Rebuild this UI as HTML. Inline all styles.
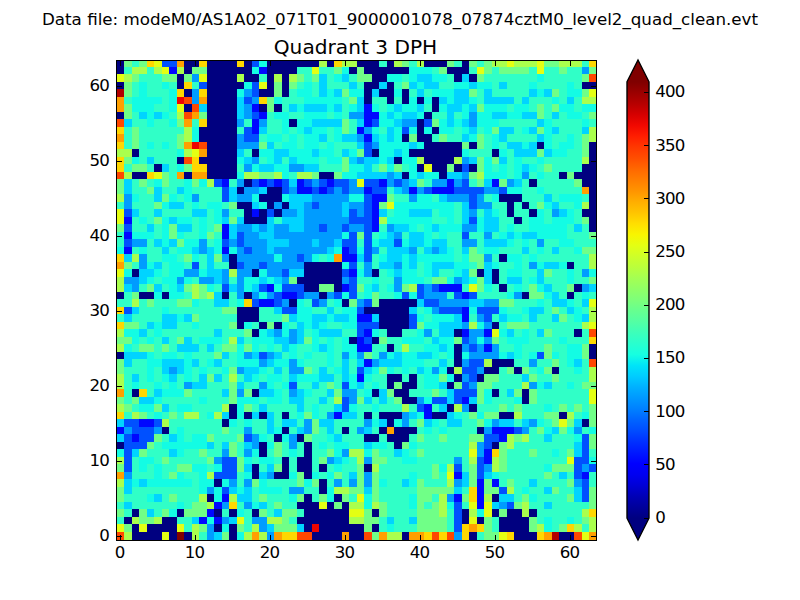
<!DOCTYPE html>
<html lang="en">
<head>
<meta charset="utf-8">
<title>Quadrant 3 DPH</title>
<style>
html,body{margin:0;padding:0;background:#fff;}
body{width:800px;height:600px;position:relative;overflow:hidden;font-family:"DejaVu Sans","Liberation Sans",sans-serif;color:#000;}
svg{position:absolute;left:0;top:0;display:block;}
.t{position:absolute;white-space:nowrap;line-height:1;font-size:16.67px;}
.sup{left:0;width:800px;text-align:center;top:10.8px;font-size:16.71px;}
.ttl{left:115px;width:481px;text-align:center;top:37px;font-size:20.15px;}
.yl{text-align:right;width:60px;left:49.1px;letter-spacing:-0.8px;}
.xl{text-align:center;width:60px;top:545.0px;letter-spacing:-0.8px;}
.cl{left:655.25px;letter-spacing:-0.8px;}
</style>
</head>
<body>
<svg width="800" height="600" viewBox="0 0 800 600">
<defs><linearGradient id="jet" gradientUnits="userSpaceOnUse" x1="0" y1="60" x2="0" y2="540"><stop offset="0" stop-color="#800000"/><stop offset="0.0455" stop-color="#800000"/><stop offset="0.0682" stop-color="#9b0000"/><stop offset="0.0909" stop-color="#b60000"/><stop offset="0.1136" stop-color="#d60000"/><stop offset="0.1364" stop-color="#f10800"/><stop offset="0.1591" stop-color="#ff1e00"/><stop offset="0.1818" stop-color="#ff3800"/><stop offset="0.2045" stop-color="#ff4e00"/><stop offset="0.2273" stop-color="#ff6800"/><stop offset="0.2500" stop-color="#ff7e00"/><stop offset="0.2727" stop-color="#ff9400"/><stop offset="0.2955" stop-color="#ffae00"/><stop offset="0.3182" stop-color="#ffc400"/><stop offset="0.3409" stop-color="#ffde00"/><stop offset="0.3636" stop-color="#f8f500"/><stop offset="0.3864" stop-color="#e4ff13"/><stop offset="0.4091" stop-color="#ceff29"/><stop offset="0.4318" stop-color="#baff3c"/><stop offset="0.4545" stop-color="#a4ff53"/><stop offset="0.4773" stop-color="#90ff66"/><stop offset="0.5000" stop-color="#7dff7a"/><stop offset="0.5227" stop-color="#66ff90"/><stop offset="0.5455" stop-color="#53ffa4"/><stop offset="0.5682" stop-color="#3cffba"/><stop offset="0.5909" stop-color="#29ffce"/><stop offset="0.6136" stop-color="#16ffe1"/><stop offset="0.6364" stop-color="#00e4f8"/><stop offset="0.6591" stop-color="#00ccff"/><stop offset="0.6818" stop-color="#00b0ff"/><stop offset="0.7045" stop-color="#0098ff"/><stop offset="0.7273" stop-color="#0080ff"/><stop offset="0.7500" stop-color="#0064ff"/><stop offset="0.7727" stop-color="#004cff"/><stop offset="0.7955" stop-color="#0030ff"/><stop offset="0.8182" stop-color="#0018ff"/><stop offset="0.8409" stop-color="#0000ff"/><stop offset="0.8636" stop-color="#0000f1"/><stop offset="0.8864" stop-color="#0000d6"/><stop offset="0.9091" stop-color="#0000b6"/><stop offset="0.9318" stop-color="#00009b"/><stop offset="0.9545" stop-color="#000080"/><stop offset="1" stop-color="#000080"/></linearGradient></defs>
<clipPath id="ax"><rect x="116" y="60" width="481" height="481"/></clipPath>
<g shape-rendering="crispEdges" clip-path="url(#ax)">
<path fill="#000080" d="M116 60h8v7h-8zM184 60h15v7h-15zM207 60h30v7h-30zM244 60h8v7h-8zM267 60h52v7h-52zM327 60h7v7h-7zM357 60h22v7h-22zM387 60h7v7h-7zM424 60h23v7h-23zM462 60h7v7h-7zM116 67h8v7h-8zM184 67h8v7h-8zM207 67h45v7h-45zM267 67h30v7h-30zM349 67h8v7h-8zM364 67h45v7h-45zM447 67h22v7h-22zM177 74h7v8h-7zM207 74h30v8h-30zM244 74h15v8h-15zM267 74h7v8h-7zM282 74h7v8h-7zM372 74h15v8h-15zM454 74h8v8h-8zM469 74h8v8h-8zM116 82h8v7h-8zM177 82h7v7h-7zM207 82h37v7h-37zM267 82h7v7h-7zM282 82h7v7h-7zM364 82h15v7h-15zM387 82h7v7h-7zM582 82h15v7h-15zM184 89h8v8h-8zM207 89h30v8h-30zM259 89h15v8h-15zM282 89h7v8h-7zM364 89h8v8h-8zM379 89h15v8h-15zM402 89h7v8h-7zM207 97h30v7h-30zM364 97h8v7h-8zM387 97h7v7h-7zM402 97h7v7h-7zM417 97h7v7h-7zM432 97h7v7h-7zM184 104h8v8h-8zM207 104h30v8h-30zM259 104h8v8h-8zM274 104h8v8h-8zM432 104h7v8h-7zM116 112h8v7h-8zM207 112h30v7h-30zM424 112h8v7h-8zM207 119h30v8h-30zM289 119h8v8h-8zM417 119h7v8h-7zM199 127h38v7h-38zM417 127h7v7h-7zM432 127h7v7h-7zM199 134h38v8h-38zM402 134h7v8h-7zM417 134h15v8h-15zM207 142h30v7h-30zM424 142h38v7h-38zM469 142h8v7h-8zM537 142h7v7h-7zM589 142h8v7h-8zM132 149h7v8h-7zM207 149h30v8h-30zM252 149h7v8h-7zM372 149h7v8h-7zM409 149h53v8h-53zM492 149h7v8h-7zM589 149h8v8h-8zM177 157h7v7h-7zM199 157h38v7h-38zM394 157h8v7h-8zM424 157h30v7h-30zM589 157h8v7h-8zM154 164h8v8h-8zM207 164h30v8h-30zM417 164h7v8h-7zM432 164h15v8h-15zM454 164h8v8h-8zM469 164h8v8h-8zM582 164h15v8h-15zM132 172h15v7h-15zM184 172h8v7h-8zM207 172h30v7h-30zM319 172h15v7h-15zM402 172h7v7h-7zM439 172h8v7h-8zM559 172h8v7h-8zM574 172h23v7h-23zM244 179h8v8h-8zM529 179h8v8h-8zM582 179h15v8h-15zM237 187h7v7h-7zM267 187h15v7h-15zM589 187h8v7h-8zM259 194h23v8h-23zM499 194h23v8h-23zM589 194h8v8h-8zM237 202h15v7h-15zM267 202h7v7h-7zM282 202h7v7h-7zM507 202h7v7h-7zM522 202h7v7h-7zM589 202h8v7h-8zM244 209h8v8h-8zM259 209h8v8h-8zM274 209h8v8h-8zM507 209h7v8h-7zM529 209h8v8h-8zM582 209h15v8h-15zM244 217h23v7h-23zM514 217h8v7h-8zM589 217h8v7h-8zM589 224h8v8h-8zM229 254h8v8h-8zM499 254h8v8h-8zM229 262h8v7h-8zM304 262h38v7h-38zM567 262h7v7h-7zM132 269h7v8h-7zM252 269h7v8h-7zM304 269h38v8h-38zM372 269h7v8h-7zM477 269h7v8h-7zM492 269h7v8h-7zM297 277h45v7h-45zM492 277h7v7h-7zM304 284h15v8h-15zM334 284h8v8h-8zM499 284h8v8h-8zM574 284h8v8h-8zM116 292h8v7h-8zM139 292h15v7h-15zM162 292h7v7h-7zM222 292h7v7h-7zM244 292h8v7h-8zM319 292h8v7h-8zM522 292h7v7h-7zM567 292h7v7h-7zM289 299h8v8h-8zM342 299h7v8h-7zM379 299h38v8h-38zM237 307h22v7h-22zM364 307h45v7h-45zM237 314h22v8h-22zM379 314h30v8h-30zM237 322h7v7h-7zM259 322h8v7h-8zM274 322h8v7h-8zM379 322h30v7h-30zM492 322h7v7h-7zM252 329h7v8h-7zM387 329h15v8h-15zM454 329h8v8h-8zM574 329h8v8h-8zM349 337h8v7h-8zM372 337h7v7h-7zM387 344h7v8h-7zM454 344h8v8h-8zM589 344h8v8h-8zM116 352h8v7h-8zM454 352h8v7h-8zM589 352h8v7h-8zM454 359h8v8h-8zM492 359h22v8h-22zM447 367h7v7h-7zM484 367h15v7h-15zM514 367h8v7h-8zM552 367h7v7h-7zM387 374h15v8h-15zM409 374h8v8h-8zM454 374h8v8h-8zM477 374h7v8h-7zM387 382h7v7h-7zM402 382h15v7h-15zM447 382h7v7h-7zM132 389h7v8h-7zM252 389h7v8h-7zM372 389h7v8h-7zM394 389h15v8h-15zM492 389h7v8h-7zM522 389h7v8h-7zM402 397h15v7h-15zM522 397h7v7h-7zM229 404h8v8h-8zM447 404h7v8h-7zM469 404h8v8h-8zM229 412h8v7h-8zM244 412h8v7h-8zM259 412h8v7h-8zM282 412h7v7h-7zM364 412h8v7h-8zM379 412h23v7h-23zM432 412h15v7h-15zM499 412h15v7h-15zM559 412h8v7h-8zM222 419h7v8h-7zM387 419h7v8h-7zM582 419h7v8h-7zM162 427h7v7h-7zM282 427h7v7h-7zM342 427h7v7h-7zM379 427h8v7h-8zM394 427h23v7h-23zM477 427h7v7h-7zM274 434h8v8h-8zM297 434h7v8h-7zM364 434h15v8h-15zM387 434h22v8h-22zM116 442h8v7h-8zM259 442h8v7h-8zM304 442h8v7h-8zM394 442h8v7h-8zM492 442h7v7h-7zM259 449h8v8h-8zM304 449h8v8h-8zM282 457h7v7h-7zM297 457h15v7h-15zM252 464h7v8h-7zM282 464h7v8h-7zM297 464h15v8h-15zM319 464h8v8h-8zM364 464h8v8h-8zM252 472h7v7h-7zM274 472h15v7h-15zM304 472h8v7h-8zM214 479h8v8h-8zM319 479h8v8h-8zM319 487h8v7h-8zM207 494h7v8h-7zM304 494h8v8h-8zM334 494h8v8h-8zM492 494h7v8h-7zM297 502h22v7h-22zM327 502h7v7h-7zM342 502h7v7h-7zM132 509h7v8h-7zM177 509h7v8h-7zM214 509h8v8h-8zM229 509h8v8h-8zM252 509h7v8h-7zM304 509h45v8h-45zM372 509h7v8h-7zM462 509h7v8h-7zM492 509h7v8h-7zM507 509h15v8h-15zM529 509h8v8h-8zM124 517h8v7h-8zM162 517h15v7h-15zM297 517h52v7h-52zM462 517h7v7h-7zM477 517h7v7h-7zM499 517h30v7h-30zM132 524h7v8h-7zM147 524h30v8h-30zM214 524h8v8h-8zM229 524h8v8h-8zM304 524h8v8h-8zM319 524h45v8h-45zM372 524h7v8h-7zM499 524h30v8h-30zM132 532h30v9h-30zM169 532h8v9h-8zM184 532h8v9h-8zM229 532h8v9h-8zM312 532h30v9h-30zM349 532h15v9h-15zM402 532h7v9h-7zM469 532h8v9h-8zM514 532h23v9h-23zM559 532h15v9h-15z"/>
<path fill="#0008ff" d="M169 67h8v7h-8zM259 67h8v7h-8zM252 104h7v8h-7zM364 104h8v8h-8zM259 112h8v7h-8zM364 112h15v7h-15zM252 119h7v8h-7zM364 119h8v8h-8zM252 127h7v7h-7zM357 127h7v7h-7zM364 134h8v8h-8zM222 179h7v8h-7zM259 179h8v8h-8zM274 179h8v8h-8zM297 179h7v8h-7zM327 179h7v8h-7zM379 179h8v8h-8zM447 179h7v8h-7zM492 179h7v8h-7zM297 187h15v7h-15zM319 187h8v7h-8zM364 187h8v7h-8zM409 187h8v7h-8zM432 187h22v7h-22zM372 194h15v8h-15zM372 202h7v7h-7zM252 209h7v8h-7zM372 209h7v8h-7zM124 217h8v7h-8zM372 217h7v7h-7zM222 224h7v8h-7zM372 224h7v8h-7zM124 232h8v7h-8zM222 232h7v7h-7zM124 247h8v7h-8zM222 247h7v7h-7zM342 247h7v7h-7zM342 254h15v8h-15zM349 269h8v8h-8zM267 284h7v8h-7zM342 284h7v8h-7zM439 284h23v8h-23zM282 292h15v7h-15zM462 292h7v7h-7zM259 299h15v8h-15zM462 307h7v7h-7zM357 314h15v8h-15zM462 314h7v8h-7zM364 329h8v8h-8zM462 329h7v8h-7zM484 329h8v8h-8zM357 337h7v7h-7zM357 344h15v8h-15zM484 344h8v8h-8zM364 359h8v8h-8zM357 374h7v8h-7zM462 397h7v7h-7zM424 404h8v8h-8zM334 412h8v7h-8zM424 412h8v7h-8zM139 419h15v8h-15zM116 427h8v7h-8zM492 427h22v7h-22zM132 434h7v8h-7zM499 434h8v8h-8zM484 449h8v8h-8zM484 457h8v7h-8zM454 472h8v7h-8zM582 472h7v7h-7zM477 479h7v8h-7zM492 479h7v8h-7zM477 487h7v7h-7zM222 494h7v8h-7zM454 494h8v8h-8zM477 494h7v8h-7zM214 502h8v7h-8zM477 502h7v7h-7zM207 509h7v8h-7zM199 517h8v7h-8zM214 517h8v7h-8z"/>
<path fill="#0050ff" d="M162 60h15v7h-15zM252 60h7v7h-7zM199 82h8v7h-8zM252 82h7v7h-7zM252 89h7v8h-7zM244 97h8v7h-8zM252 112h7v7h-7zM372 119h7v8h-7zM424 119h8v8h-8zM244 127h8v7h-8zM402 127h7v7h-7zM244 134h15v8h-15zM364 142h8v7h-8zM364 149h8v8h-8zM462 164h7v8h-7zM214 179h8v8h-8zM252 179h7v8h-7zM267 179h7v8h-7zM282 179h7v8h-7zM304 179h8v8h-8zM319 179h8v8h-8zM334 179h15v8h-15zM364 179h15v8h-15zM394 179h8v8h-8zM462 179h7v8h-7zM222 187h7v7h-7zM282 187h7v7h-7zM312 187h7v7h-7zM327 187h7v7h-7zM342 187h7v7h-7zM372 187h15v7h-15zM424 187h8v7h-8zM454 187h30v7h-30zM499 187h8v7h-8zM222 194h7v8h-7zM364 194h8v8h-8zM469 194h8v8h-8zM312 202h7v7h-7zM364 202h8v7h-8zM469 202h8v7h-8zM124 209h8v8h-8zM267 209h7v8h-7zM349 209h8v8h-8zM364 209h8v8h-8zM349 217h23v7h-23zM469 217h8v7h-8zM124 224h8v8h-8zM319 224h8v8h-8zM342 224h7v8h-7zM364 224h8v8h-8zM237 232h7v7h-7zM349 232h8v7h-8zM364 232h8v7h-8zM462 232h7v7h-7zM124 239h8v8h-8zM222 239h7v8h-7zM237 239h7v8h-7zM342 239h15v8h-15zM364 239h8v8h-8zM394 239h8v8h-8zM244 247h8v7h-8zM349 247h8v7h-8zM364 247h8v7h-8zM297 254h7v8h-7zM364 254h8v8h-8zM192 262h7v7h-7zM237 262h7v7h-7zM259 262h8v7h-8zM349 262h8v7h-8zM282 269h7v8h-7zM342 269h7v8h-7zM349 277h8v7h-8zM222 284h7v8h-7zM259 284h8v8h-8zM282 284h22v8h-22zM349 284h8v8h-8zM417 284h7v8h-7zM432 284h7v8h-7zM274 292h8v7h-8zM297 292h7v7h-7zM334 292h8v7h-8zM349 292h8v7h-8zM402 292h7v7h-7zM417 292h7v7h-7zM454 292h8v7h-8zM469 292h8v7h-8zM252 299h7v8h-7zM274 299h8v8h-8zM312 299h7v8h-7zM364 299h8v8h-8zM424 299h15v8h-15zM124 307h8v7h-8zM282 307h15v7h-15zM357 307h7v7h-7zM439 307h23v7h-23zM477 307h22v7h-22zM409 314h8v8h-8zM484 314h8v8h-8zM357 322h22v7h-22zM409 322h8v7h-8zM357 329h7v8h-7zM364 337h8v7h-8zM462 337h7v7h-7zM469 344h8v8h-8zM259 352h8v7h-8zM537 352h7v7h-7zM469 359h15v8h-15zM357 367h7v7h-7zM462 367h15v7h-15zM469 374h8v8h-8zM289 382h8v7h-8zM342 382h7v7h-7zM462 382h7v7h-7zM454 389h23v8h-23zM342 397h7v7h-7zM432 397h15v7h-15zM454 397h8v7h-8zM342 404h7v8h-7zM417 404h7v8h-7zM124 419h15v8h-15zM154 419h8v8h-8zM132 427h22v7h-22zM514 427h8v7h-8zM124 434h8v8h-8zM139 434h15v8h-15zM244 434h8v8h-8zM484 434h15v8h-15zM582 434h7v8h-7zM124 442h23v7h-23zM484 442h8v7h-8zM582 442h7v7h-7zM124 449h8v8h-8zM582 449h7v8h-7zM124 457h8v7h-8zM222 457h15v7h-15zM477 457h7v7h-7zM574 457h15v7h-15zM124 464h8v8h-8zM222 464h15v8h-15zM454 464h8v8h-8zM477 464h7v8h-7zM574 464h8v8h-8zM589 464h8v8h-8zM214 472h23v7h-23zM477 472h7v7h-7zM574 472h8v7h-8zM582 479h7v8h-7zM222 487h7v7h-7zM499 487h8v7h-8zM582 487h7v7h-7zM582 494h7v8h-7zM454 502h8v7h-8zM507 502h7v7h-7zM454 509h8v8h-8zM454 517h8v7h-8zM454 524h8v8h-8z"/>
<path fill="#009cff" d="M582 67h7v7h-7zM192 74h7v8h-7zM192 89h7v8h-7zM244 89h8v8h-8zM192 97h7v7h-7zM252 97h7v7h-7zM244 104h8v8h-8zM244 112h8v7h-8zM349 112h15v7h-15zM469 112h8v7h-8zM237 119h7v8h-7zM259 119h8v8h-8zM402 119h15v8h-15zM469 119h8v8h-8zM364 127h8v7h-8zM237 134h7v8h-7zM357 134h7v8h-7zM237 142h22v7h-22zM372 142h7v7h-7zM252 157h7v7h-7zM357 157h7v7h-7zM462 157h7v7h-7zM244 164h8v8h-8zM289 164h15v8h-15zM387 172h7v7h-7zM462 172h7v7h-7zM522 172h7v7h-7zM237 179h7v8h-7zM312 179h7v8h-7zM349 179h8v8h-8zM387 179h7v8h-7zM402 179h7v8h-7zM432 179h15v8h-15zM454 179h8v8h-8zM507 179h7v8h-7zM244 187h15v7h-15zM289 187h8v7h-8zM334 187h8v7h-8zM349 187h15v7h-15zM402 187h7v7h-7zM417 187h7v7h-7zM484 187h15v7h-15zM124 194h8v8h-8zM192 194h7v8h-7zM237 194h15v8h-15zM312 194h37v8h-37zM409 194h8v8h-8zM447 194h22v8h-22zM477 194h7v8h-7zM124 202h8v7h-8zM274 202h8v7h-8zM304 202h8v7h-8zM319 202h23v7h-23zM349 202h15v7h-15zM477 202h15v7h-15zM222 209h7v8h-7zM282 209h15v8h-15zM304 209h38v8h-38zM357 209h7v8h-7zM469 209h8v8h-8zM552 209h7v8h-7zM304 217h45v7h-45zM237 224h15v8h-15zM259 224h8v8h-8zM274 224h15v8h-15zM304 224h15v8h-15zM327 224h15v8h-15zM349 224h15v8h-15zM387 224h7v8h-7zM462 224h15v8h-15zM244 232h15v7h-15zM274 232h68v7h-68zM394 232h8v7h-8zM484 232h8v7h-8zM132 239h15v8h-15zM199 239h8v8h-8zM229 239h8v8h-8zM244 239h23v8h-23zM289 239h23v8h-23zM319 239h15v8h-15zM462 239h15v8h-15zM537 239h7v8h-7zM199 247h8v7h-8zM237 247h7v7h-7zM252 247h15v7h-15zM274 247h53v7h-53zM372 247h7v7h-7zM409 247h8v7h-8zM432 247h7v7h-7zM139 254h8v8h-8zM222 254h7v8h-7zM237 254h37v8h-37zM282 254h15v8h-15zM304 254h8v8h-8zM484 254h8v8h-8zM139 262h8v7h-8zM244 262h15v7h-15zM267 262h37v7h-37zM364 262h8v7h-8zM394 262h8v7h-8zM529 262h8v7h-8zM184 269h15v8h-15zM222 269h7v8h-7zM237 269h15v8h-15zM267 269h15v8h-15zM364 269h8v8h-8zM582 269h7v8h-7zM124 277h15v7h-15zM177 277h7v7h-7zM199 277h15v7h-15zM222 277h7v7h-7zM237 277h7v7h-7zM282 277h7v7h-7zM342 277h7v7h-7zM394 277h8v7h-8zM454 277h8v7h-8zM132 284h7v8h-7zM237 284h7v8h-7zM394 284h8v8h-8zM424 284h8v8h-8zM582 284h7v8h-7zM237 292h7v7h-7zM252 292h7v7h-7zM267 292h7v7h-7zM304 292h15v7h-15zM327 292h7v7h-7zM424 292h23v7h-23zM514 292h8v7h-8zM282 299h7v8h-7zM319 299h8v8h-8zM357 299h7v8h-7zM439 299h30v8h-30zM484 299h15v8h-15zM432 307h7v7h-7zM477 314h7v8h-7zM462 322h7v7h-7zM484 322h8v7h-8zM274 329h8v8h-8zM289 329h8v8h-8zM424 329h8v8h-8zM469 329h15v8h-15zM289 337h8v7h-8zM469 337h8v7h-8zM484 337h8v7h-8zM462 344h7v8h-7zM477 344h7v8h-7zM492 344h7v8h-7zM244 352h8v7h-8zM267 352h7v7h-7zM342 352h7v7h-7zM357 352h7v7h-7zM379 352h8v7h-8zM469 352h30v7h-30zM259 359h8v8h-8zM289 359h8v8h-8zM372 359h7v8h-7zM462 359h7v8h-7zM529 359h8v8h-8zM169 367h8v7h-8zM237 367h7v7h-7zM289 367h15v7h-15zM432 367h7v7h-7zM477 367h7v7h-7zM462 374h7v8h-7zM184 382h8v7h-8zM259 382h8v7h-8zM469 382h8v7h-8zM529 382h8v7h-8zM237 389h7v8h-7zM289 389h8v8h-8zM342 389h15v8h-15zM349 397h8v7h-8zM417 397h7v7h-7zM462 404h7v8h-7zM327 412h7v7h-7zM402 412h7v7h-7zM304 419h8v8h-8zM364 419h8v8h-8zM402 419h7v8h-7zM492 419h7v8h-7zM529 419h8v8h-8zM124 427h8v7h-8zM154 427h8v7h-8zM244 427h8v7h-8zM304 427h8v7h-8zM357 427h7v7h-7zM484 427h8v7h-8zM522 427h7v7h-7zM574 427h8v7h-8zM252 434h7v8h-7zM289 434h8v8h-8zM252 442h7v7h-7zM289 442h8v7h-8zM477 442h7v7h-7zM222 449h7v8h-7zM244 449h8v8h-8zM342 449h7v8h-7zM477 449h7v8h-7zM214 457h8v7h-8zM327 457h7v7h-7zM364 457h8v7h-8zM454 457h8v7h-8zM484 464h8v8h-8zM582 464h7v8h-7zM124 472h8v7h-8zM267 472h7v7h-7zM364 472h8v7h-8zM229 479h8v8h-8zM244 479h8v8h-8zM334 479h8v8h-8zM349 479h8v8h-8zM364 479h8v8h-8zM454 479h8v8h-8zM574 479h8v8h-8zM207 487h7v7h-7zM289 487h15v7h-15zM447 494h7v8h-7zM222 502h7v7h-7zM244 502h8v7h-8zM499 502h8v7h-8zM222 517h7v7h-7zM252 517h15v7h-15zM207 524h7v8h-7zM259 524h8v8h-8zM207 532h7v9h-7zM267 532h7v9h-7zM454 532h8v9h-8z"/>
<path fill="#00d4ff" d="M319 74h8v8h-8zM342 74h7v8h-7zM417 74h15v8h-15zM462 74h7v8h-7zM319 82h8v7h-8zM349 82h8v7h-8zM379 82h8v7h-8zM409 82h8v7h-8zM424 82h15v7h-15zM469 82h8v7h-8zM499 82h8v7h-8zM319 89h8v8h-8zM334 89h8v8h-8zM372 89h7v8h-7zM417 89h7v8h-7zM454 89h15v8h-15zM484 89h8v8h-8zM529 89h8v8h-8zM544 89h8v8h-8zM237 97h7v7h-7zM357 97h7v7h-7zM439 97h8v7h-8zM454 97h15v7h-15zM484 97h30v7h-30zM522 97h7v7h-7zM567 97h7v7h-7zM199 104h8v8h-8zM237 104h7v8h-7zM289 104h8v8h-8zM304 104h23v8h-23zM334 104h8v8h-8zM357 104h7v8h-7zM394 104h8v8h-8zM417 104h7v8h-7zM447 104h15v8h-15zM469 104h8v8h-8zM139 112h8v7h-8zM154 112h8v7h-8zM237 112h7v7h-7zM387 112h7v7h-7zM402 112h15v7h-15zM447 112h7v7h-7zM492 112h15v7h-15zM522 112h15v7h-15zM552 112h7v7h-7zM124 119h8v8h-8zM312 119h30v8h-30zM357 119h7v8h-7zM394 119h8v8h-8zM447 119h7v8h-7zM462 119h7v8h-7zM537 119h7v8h-7zM259 127h8v7h-8zM304 127h8v7h-8zM387 127h7v7h-7zM469 127h8v7h-8zM499 127h15v7h-15zM529 127h8v7h-8zM552 127h7v7h-7zM582 127h7v7h-7zM319 134h8v8h-8zM342 134h15v8h-15zM372 134h7v8h-7zM387 134h7v8h-7zM462 134h7v8h-7zM499 134h8v8h-8zM537 134h7v8h-7zM267 142h7v7h-7zM357 142h7v7h-7zM409 142h8v7h-8zM507 142h15v7h-15zM529 142h8v7h-8zM237 149h7v8h-7zM274 149h15v8h-15zM312 149h7v8h-7zM342 149h7v8h-7zM394 149h8v8h-8zM514 149h23v8h-23zM544 149h8v8h-8zM147 157h7v7h-7zM244 157h8v7h-8zM274 157h8v7h-8zM289 157h8v7h-8zM349 157h8v7h-8zM364 157h15v7h-15zM387 157h7v7h-7zM469 157h8v7h-8zM499 157h8v7h-8zM162 164h7v8h-7zM259 164h15v8h-15zM304 164h15v8h-15zM364 164h8v8h-8zM522 164h7v8h-7zM357 172h30v7h-30zM394 172h8v7h-8zM417 172h7v7h-7zM447 172h15v7h-15zM124 179h8v8h-8zM289 179h8v8h-8zM409 179h8v8h-8zM484 179h8v8h-8zM514 179h8v8h-8zM124 187h8v7h-8zM154 187h8v7h-8zM177 187h7v7h-7zM229 187h8v7h-8zM259 187h8v7h-8zM394 187h8v7h-8zM154 194h8v8h-8zM229 194h8v8h-8zM289 194h23v8h-23zM439 194h8v8h-8zM544 194h8v8h-8zM169 202h15v7h-15zM252 202h7v7h-7zM289 202h15v7h-15zM342 202h7v7h-7zM462 202h7v7h-7zM552 202h7v7h-7zM132 209h7v8h-7zM154 209h8v8h-8zM192 209h15v8h-15zM297 209h7v8h-7zM342 209h7v8h-7zM379 209h8v8h-8zM409 209h23v8h-23zM462 209h7v8h-7zM484 209h8v8h-8zM559 209h8v8h-8zM169 217h8v7h-8zM222 217h7v7h-7zM237 217h7v7h-7zM267 217h7v7h-7zM282 217h22v7h-22zM462 217h7v7h-7zM484 217h15v7h-15zM147 224h7v8h-7zM177 224h15v8h-15zM229 224h8v8h-8zM252 224h7v8h-7zM267 224h7v8h-7zM289 224h15v8h-15zM394 224h15v8h-15zM432 224h7v8h-7zM484 224h15v8h-15zM574 224h8v8h-8zM229 232h8v7h-8zM259 232h15v7h-15zM387 232h7v7h-7zM409 232h15v7h-15zM507 232h7v7h-7zM522 232h15v7h-15zM154 239h8v8h-8zM169 239h8v8h-8zM267 239h22v8h-22zM312 239h7v8h-7zM334 239h8v8h-8zM379 239h15v8h-15zM409 239h15v8h-15zM432 239h15v8h-15zM484 239h23v8h-23zM162 247h7v7h-7zM192 247h7v7h-7zM207 247h7v7h-7zM267 247h7v7h-7zM327 247h7v7h-7zM387 247h22v7h-22zM424 247h8v7h-8zM439 247h8v7h-8zM462 247h7v7h-7zM522 247h7v7h-7zM552 247h7v7h-7zM124 254h8v8h-8zM207 254h7v8h-7zM357 254h7v8h-7zM387 254h15v8h-15zM409 254h8v8h-8zM154 262h8v7h-8zM207 262h7v7h-7zM379 262h15v7h-15zM409 262h8v7h-8zM432 262h22v7h-22zM484 262h8v7h-8zM544 262h15v7h-15zM139 269h15v8h-15zM207 269h15v8h-15zM289 269h15v8h-15zM394 269h8v8h-8zM432 269h7v8h-7zM462 269h7v8h-7zM484 269h8v8h-8zM537 269h7v8h-7zM139 277h8v7h-8zM214 277h8v7h-8zM259 277h8v7h-8zM274 277h8v7h-8zM462 277h7v7h-7zM484 277h8v7h-8zM507 277h15v7h-15zM537 277h7v7h-7zM124 284h8v8h-8zM154 284h8v8h-8zM177 284h7v8h-7zM229 284h8v8h-8zM252 284h7v8h-7zM372 284h7v8h-7zM544 284h8v8h-8zM589 284h8v8h-8zM214 292h8v7h-8zM552 292h7v7h-7zM214 299h15v8h-15zM417 299h7v8h-7zM469 299h15v8h-15zM552 299h15v8h-15zM582 299h7v8h-7zM132 307h7v7h-7zM274 307h8v7h-8zM327 307h7v7h-7zM409 307h8v7h-8zM529 307h15v7h-15zM567 307h7v7h-7zM124 314h8v8h-8zM162 314h15v8h-15zM184 314h8v8h-8zM289 314h8v8h-8zM312 314h15v8h-15zM334 314h15v8h-15zM372 314h7v8h-7zM454 314h8v8h-8zM499 314h8v8h-8zM529 314h8v8h-8zM552 314h7v8h-7zM582 314h7v8h-7zM147 322h7v7h-7zM162 322h15v7h-15zM297 322h7v7h-7zM312 322h7v7h-7zM439 322h23v7h-23zM139 329h8v8h-8zM214 329h8v8h-8zM267 329h7v8h-7zM297 329h7v8h-7zM319 329h23v8h-23zM439 329h15v8h-15zM507 329h7v8h-7zM537 329h7v8h-7zM162 337h7v7h-7zM184 337h8v7h-8zM237 337h7v7h-7zM274 337h15v7h-15zM297 337h7v7h-7zM432 337h7v7h-7zM177 344h22v8h-22zM207 344h7v8h-7zM282 344h7v8h-7zM319 344h8v8h-8zM439 344h8v8h-8zM124 352h23v7h-23zM222 352h7v7h-7zM252 352h7v7h-7zM274 352h8v7h-8zM394 352h8v7h-8zM417 352h15v7h-15zM507 352h7v7h-7zM124 359h8v8h-8zM162 359h22v8h-22zM192 359h7v8h-7zM214 359h8v8h-8zM267 359h7v8h-7zM342 359h7v8h-7zM357 359h7v8h-7zM379 359h23v8h-23zM439 359h8v8h-8zM574 359h8v8h-8zM162 367h7v7h-7zM177 367h7v7h-7zM244 367h15v7h-15zM274 367h8v7h-8zM319 367h8v7h-8zM342 367h7v7h-7zM364 367h8v7h-8zM417 367h7v7h-7zM132 374h7v8h-7zM169 374h8v8h-8zM199 374h8v8h-8zM214 374h8v8h-8zM244 374h8v8h-8zM289 374h8v8h-8zM319 374h15v8h-15zM342 374h7v8h-7zM522 374h7v8h-7zM192 382h15v7h-15zM237 382h7v7h-7zM312 382h7v7h-7zM357 382h7v7h-7zM439 382h8v7h-8zM544 382h8v7h-8zM154 389h8v8h-8zM222 389h7v8h-7zM259 389h15v8h-15zM297 389h7v8h-7zM327 389h7v8h-7zM379 389h8v8h-8zM447 389h7v8h-7zM507 389h7v8h-7zM139 397h15v7h-15zM289 397h15v7h-15zM319 397h8v7h-8zM364 397h8v7h-8zM379 397h8v7h-8zM447 397h7v7h-7zM469 397h8v7h-8zM162 404h7v8h-7zM259 404h8v8h-8zM297 404h7v8h-7zM334 404h8v8h-8zM439 404h8v8h-8zM222 412h7v7h-7zM252 412h7v7h-7zM267 412h7v7h-7zM342 412h15v7h-15zM409 412h8v7h-8zM447 412h7v7h-7zM116 419h8v8h-8zM267 419h7v8h-7zM282 419h15v8h-15zM319 419h15v8h-15zM379 419h8v8h-8zM424 419h8v8h-8zM447 419h15v8h-15zM499 419h15v8h-15zM522 419h7v8h-7zM574 419h8v8h-8zM267 427h7v7h-7zM297 427h7v7h-7zM327 427h7v7h-7zM364 427h8v7h-8zM552 427h7v7h-7zM116 434h8v8h-8zM169 434h8v8h-8zM334 434h8v8h-8zM544 434h8v8h-8zM207 442h7v7h-7zM222 442h7v7h-7zM244 442h8v7h-8zM364 442h8v7h-8zM574 442h8v7h-8zM132 449h7v8h-7zM169 449h8v8h-8zM394 449h8v8h-8zM574 449h8v8h-8zM334 457h8v7h-8zM244 464h8v8h-8zM267 464h7v8h-7zM259 472h8v7h-8zM349 472h8v7h-8zM462 472h7v7h-7zM484 472h8v7h-8zM559 472h8v7h-8zM124 479h8v8h-8zM139 479h8v8h-8zM402 479h7v8h-7zM462 479h7v8h-7zM529 479h8v8h-8zM124 487h8v7h-8zM229 487h8v7h-8zM244 487h8v7h-8zM364 487h8v7h-8zM454 487h8v7h-8zM544 487h8v7h-8zM574 487h8v7h-8zM154 494h8v8h-8zM237 494h15v8h-15zM499 494h15v8h-15zM574 494h8v8h-8zM124 502h8v7h-8zM259 502h8v7h-8zM492 502h7v7h-7zM544 502h8v7h-8zM147 509h7v8h-7zM274 509h8v8h-8zM192 517h7v7h-7zM229 517h8v7h-8zM387 517h7v7h-7zM409 517h8v7h-8zM267 524h7v8h-7zM297 524h7v8h-7zM214 532h8v9h-8z"/>
<path fill="#13fce4" d="M259 60h8v7h-8zM252 67h7v7h-7zM342 67h7v7h-7zM409 67h23v7h-23zM334 74h8v8h-8zM387 74h15v8h-15zM409 74h8v8h-8zM432 74h15v8h-15zM537 74h7v8h-7zM139 82h8v7h-8zM162 82h7v7h-7zM244 82h8v7h-8zM304 82h8v7h-8zM417 82h7v7h-7zM454 82h15v7h-15zM477 82h15v7h-15zM529 82h8v7h-8zM567 82h7v7h-7zM139 89h8v8h-8zM169 89h8v8h-8zM237 89h7v8h-7zM297 89h15v8h-15zM327 89h7v8h-7zM349 89h15v8h-15zM394 89h8v8h-8zM432 89h22v8h-22zM537 89h7v8h-7zM567 89h15v8h-15zM132 97h30v7h-30zM169 97h8v7h-8zM274 97h8v7h-8zM304 97h38v7h-38zM409 97h8v7h-8zM424 97h8v7h-8zM447 97h7v7h-7zM469 97h8v7h-8zM552 97h7v7h-7zM132 104h22v8h-22zM169 104h8v8h-8zM297 104h7v8h-7zM327 104h7v8h-7zM349 104h8v8h-8zM372 104h7v8h-7zM387 104h7v8h-7zM402 104h15v8h-15zM439 104h8v8h-8zM462 104h7v8h-7zM484 104h23v8h-23zM514 104h15v8h-15zM559 104h15v8h-15zM582 104h15v8h-15zM147 112h7v7h-7zM162 112h7v7h-7zM274 112h15v7h-15zM304 112h23v7h-23zM334 112h8v7h-8zM379 112h8v7h-8zM394 112h8v7h-8zM417 112h7v7h-7zM462 112h7v7h-7zM477 112h15v7h-15zM507 112h15v7h-15zM567 112h15v7h-15zM147 119h7v8h-7zM169 119h8v8h-8zM282 119h7v8h-7zM297 119h15v8h-15zM379 119h15v8h-15zM439 119h8v8h-8zM454 119h8v8h-8zM477 119h22v8h-22zM544 119h8v8h-8zM582 119h7v8h-7zM192 127h7v7h-7zM282 127h7v7h-7zM297 127h7v7h-7zM312 127h15v7h-15zM334 127h8v7h-8zM372 127h7v7h-7zM394 127h8v7h-8zM409 127h8v7h-8zM424 127h8v7h-8zM439 127h15v7h-15zM462 127h7v7h-7zM484 127h8v7h-8zM522 127h7v7h-7zM544 127h8v7h-8zM192 134h7v8h-7zM267 134h15v8h-15zM289 134h8v8h-8zM304 134h15v8h-15zM334 134h8v8h-8zM379 134h8v8h-8zM394 134h8v8h-8zM469 134h8v8h-8zM492 134h7v8h-7zM544 134h8v8h-8zM567 134h7v8h-7zM147 142h7v7h-7zM162 142h7v7h-7zM282 142h15v7h-15zM304 142h15v7h-15zM327 142h7v7h-7zM379 142h30v7h-30zM417 142h7v7h-7zM492 142h7v7h-7zM522 142h7v7h-7zM544 142h8v7h-8zM559 142h15v7h-15zM177 149h7v8h-7zM259 149h15v8h-15zM289 149h23v8h-23zM319 149h15v8h-15zM349 149h8v8h-8zM379 149h15v8h-15zM402 149h7v8h-7zM462 149h7v8h-7zM499 149h8v8h-8zM552 149h15v8h-15zM132 157h7v7h-7zM237 157h7v7h-7zM267 157h7v7h-7zM297 157h22v7h-22zM327 157h15v7h-15zM379 157h8v7h-8zM402 157h15v7h-15zM484 157h8v7h-8zM514 157h8v7h-8zM537 157h7v7h-7zM177 164h7v8h-7zM252 164h7v8h-7zM274 164h15v8h-15zM349 164h15v8h-15zM387 164h7v8h-7zM409 164h8v8h-8zM484 164h8v8h-8zM499 164h8v8h-8zM514 164h8v8h-8zM529 164h8v8h-8zM237 172h7v7h-7zM282 172h7v7h-7zM342 172h15v7h-15zM409 172h8v7h-8zM424 172h15v7h-15zM484 172h23v7h-23zM514 172h8v7h-8zM537 172h7v7h-7zM154 179h8v8h-8zM184 179h8v8h-8zM199 179h8v8h-8zM184 187h8v7h-8zM507 187h15v7h-15zM537 187h7v7h-7zM132 194h7v8h-7zM169 194h8v8h-8zM184 194h8v8h-8zM252 194h7v8h-7zM282 194h7v8h-7zM349 194h15v8h-15zM417 194h15v8h-15zM492 194h7v8h-7zM559 194h23v8h-23zM162 202h7v7h-7zM192 202h7v7h-7zM207 202h15v7h-15zM259 202h8v7h-8zM394 202h60v7h-60zM544 202h8v7h-8zM574 202h8v7h-8zM214 209h8v8h-8zM394 209h15v8h-15zM439 209h15v8h-15zM492 209h7v8h-7zM537 209h7v8h-7zM567 209h7v8h-7zM139 217h8v7h-8zM162 217h7v7h-7zM177 217h15v7h-15zM199 217h8v7h-8zM214 217h8v7h-8zM387 217h45v7h-45zM447 217h7v7h-7zM477 217h7v7h-7zM529 217h15v7h-15zM552 217h22v7h-22zM162 224h7v8h-7zM199 224h8v8h-8zM409 224h8v8h-8zM424 224h8v8h-8zM439 224h23v8h-23zM477 224h7v8h-7zM507 224h7v8h-7zM529 224h38v8h-38zM132 232h22v7h-22zM162 232h7v7h-7zM177 232h7v7h-7zM199 232h8v7h-8zM342 232h7v7h-7zM379 232h8v7h-8zM424 232h8v7h-8zM439 232h8v7h-8zM499 232h8v7h-8zM514 232h8v7h-8zM537 232h30v7h-30zM162 239h7v8h-7zM184 239h15v8h-15zM214 239h8v8h-8zM372 239h7v8h-7zM402 239h7v8h-7zM424 239h8v8h-8zM507 239h7v8h-7zM522 239h7v8h-7zM559 239h15v8h-15zM116 247h8v7h-8zM139 247h8v7h-8zM177 247h15v7h-15zM214 247h8v7h-8zM229 247h8v7h-8zM334 247h8v7h-8zM357 247h7v7h-7zM447 247h7v7h-7zM484 247h15v7h-15zM537 247h7v7h-7zM574 247h8v7h-8zM162 254h15v8h-15zM192 254h7v8h-7zM274 254h8v8h-8zM312 254h7v8h-7zM327 254h7v8h-7zM379 254h8v8h-8zM402 254h7v8h-7zM417 254h37v8h-37zM462 254h7v8h-7zM507 254h15v8h-15zM529 254h8v8h-8zM147 262h7v7h-7zM169 262h15v7h-15zM342 262h7v7h-7zM402 262h7v7h-7zM424 262h8v7h-8zM454 262h15v7h-15zM492 262h7v7h-7zM514 262h8v7h-8zM537 262h7v7h-7zM559 262h8v7h-8zM124 269h8v8h-8zM154 269h8v8h-8zM169 269h15v8h-15zM199 269h8v8h-8zM259 269h8v8h-8zM357 269h7v8h-7zM387 269h7v8h-7zM402 269h15v8h-15zM424 269h8v8h-8zM454 269h8v8h-8zM507 269h15v8h-15zM567 269h7v8h-7zM589 269h8v8h-8zM147 277h7v7h-7zM162 277h15v7h-15zM184 277h8v7h-8zM244 277h15v7h-15zM267 277h7v7h-7zM372 277h7v7h-7zM402 277h22v7h-22zM447 277h7v7h-7zM469 277h8v7h-8zM529 277h8v7h-8zM567 277h7v7h-7zM169 284h8v8h-8zM207 284h7v8h-7zM244 284h8v8h-8zM274 284h8v8h-8zM364 284h8v8h-8zM387 284h7v8h-7zM484 284h8v8h-8zM514 284h8v8h-8zM537 284h7v8h-7zM154 292h8v7h-8zM169 292h15v7h-15zM259 292h8v7h-8zM342 292h7v7h-7zM364 292h8v7h-8zM394 292h8v7h-8zM409 292h8v7h-8zM507 292h7v7h-7zM544 292h8v7h-8zM582 292h7v7h-7zM192 299h7v8h-7zM237 299h7v8h-7zM297 299h7v8h-7zM334 299h8v8h-8zM537 299h7v8h-7zM567 299h7v8h-7zM162 307h7v7h-7zM297 307h15v7h-15zM342 307h15v7h-15zM424 307h8v7h-8zM469 307h8v7h-8zM499 307h8v7h-8zM522 307h7v7h-7zM574 307h8v7h-8zM177 314h7v8h-7zM297 314h15v8h-15zM327 314h7v8h-7zM349 314h8v8h-8zM417 314h7v8h-7zM432 314h22v8h-22zM507 314h15v8h-15zM574 314h8v8h-8zM154 322h8v7h-8zM192 322h7v7h-7zM244 322h8v7h-8zM282 322h7v7h-7zM304 322h8v7h-8zM319 322h8v7h-8zM342 322h15v7h-15zM424 322h15v7h-15zM477 322h7v7h-7zM124 329h15v8h-15zM154 329h8v8h-8zM259 329h8v8h-8zM282 329h7v8h-7zM312 329h7v8h-7zM372 329h7v8h-7zM417 329h7v8h-7zM499 329h8v8h-8zM522 329h7v8h-7zM132 337h7v7h-7zM147 337h7v7h-7zM199 337h23v7h-23zM252 337h22v7h-22zM312 337h7v7h-7zM327 337h7v7h-7zM342 337h7v7h-7zM402 337h22v7h-22zM439 337h15v7h-15zM477 337h7v7h-7zM507 337h22v7h-22zM559 337h8v7h-8zM124 344h8v8h-8zM237 344h7v8h-7zM252 344h7v8h-7zM267 344h7v8h-7zM289 344h8v8h-8zM312 344h7v8h-7zM327 344h7v8h-7zM342 344h15v8h-15zM424 344h15v8h-15zM447 344h7v8h-7zM514 344h8v8h-8zM567 344h15v8h-15zM147 352h7v7h-7zM162 352h15v7h-15zM184 352h8v7h-8zM237 352h7v7h-7zM289 352h8v7h-8zM304 352h8v7h-8zM327 352h7v7h-7zM349 352h8v7h-8zM387 352h7v7h-7zM402 352h15v7h-15zM432 352h7v7h-7zM447 352h7v7h-7zM462 352h7v7h-7zM499 352h8v7h-8zM514 352h8v7h-8zM529 352h8v7h-8zM552 352h7v7h-7zM567 352h15v7h-15zM147 359h15v8h-15zM184 359h8v8h-8zM207 359h7v8h-7zM237 359h22v8h-22zM274 359h15v8h-15zM297 359h7v8h-7zM327 359h7v8h-7zM402 359h22v8h-22zM567 359h7v8h-7zM147 367h7v7h-7zM184 367h8v7h-8zM199 367h8v7h-8zM222 367h7v7h-7zM259 367h8v7h-8zM334 367h8v7h-8zM372 367h7v7h-7zM387 367h7v7h-7zM402 367h7v7h-7zM424 367h8v7h-8zM439 367h8v7h-8zM537 367h7v7h-7zM574 367h8v7h-8zM147 374h7v8h-7zM162 374h7v8h-7zM184 374h8v8h-8zM252 374h7v8h-7zM267 374h15v8h-15zM297 374h22v8h-22zM349 374h8v8h-8zM364 374h8v8h-8zM424 374h15v8h-15zM447 374h7v8h-7zM132 382h7v7h-7zM154 382h8v7h-8zM169 382h8v7h-8zM267 382h7v7h-7zM282 382h7v7h-7zM349 382h8v7h-8zM372 382h7v7h-7zM424 382h15v7h-15zM537 382h7v7h-7zM567 382h7v7h-7zM162 389h22v8h-22zM274 389h8v8h-8zM304 389h8v8h-8zM364 389h8v8h-8zM484 389h8v8h-8zM154 397h8v7h-8zM199 397h8v7h-8zM237 397h22v7h-22zM267 397h15v7h-15zM424 397h8v7h-8zM484 397h8v7h-8zM514 397h8v7h-8zM139 404h15v8h-15zM177 404h15v8h-15zM237 404h7v8h-7zM312 404h7v8h-7zM349 404h8v8h-8zM372 404h7v8h-7zM544 404h8v8h-8zM154 412h8v7h-8zM207 412h7v7h-7zM237 412h7v7h-7zM297 412h7v7h-7zM312 412h7v7h-7zM417 412h7v7h-7zM454 412h8v7h-8zM477 412h7v7h-7zM582 412h7v7h-7zM229 419h8v8h-8zM244 419h8v8h-8zM372 419h7v8h-7zM394 419h8v8h-8zM432 419h7v8h-7zM484 419h8v8h-8zM537 419h7v8h-7zM177 427h7v7h-7zM274 427h8v7h-8zM424 427h8v7h-8zM439 427h8v7h-8zM544 427h8v7h-8zM567 427h7v7h-7zM589 427h8v7h-8zM177 434h7v8h-7zM192 434h15v8h-15zM259 434h8v8h-8zM282 434h7v8h-7zM327 434h7v8h-7zM574 434h8v8h-8zM162 442h45v7h-45zM267 442h7v7h-7zM319 442h8v7h-8zM334 442h15v7h-15zM372 442h15v7h-15zM409 442h8v7h-8zM116 449h8v8h-8zM177 449h7v8h-7zM252 449h7v8h-7zM289 449h8v8h-8zM334 449h8v8h-8zM364 449h8v8h-8zM402 449h7v8h-7zM552 449h7v8h-7zM139 457h15v7h-15zM244 457h8v7h-8zM259 457h15v7h-15zM342 457h7v7h-7zM402 457h15v7h-15zM589 457h8v7h-8zM139 464h8v8h-8zM154 464h8v8h-8zM192 464h15v8h-15zM214 464h8v8h-8zM334 464h8v8h-8zM439 464h8v8h-8zM544 464h8v8h-8zM154 472h8v7h-8zM177 472h7v7h-7zM199 472h8v7h-8zM244 472h8v7h-8zM289 472h8v7h-8zM312 472h7v7h-7zM327 472h7v7h-7zM409 472h8v7h-8zM492 472h7v7h-7zM132 479h7v8h-7zM147 479h45v8h-45zM199 479h15v8h-15zM222 479h7v8h-7zM259 479h8v8h-8zM304 479h8v8h-8zM379 479h8v8h-8zM409 479h8v8h-8zM199 487h8v7h-8zM214 487h8v7h-8zM237 487h7v7h-7zM259 487h23v7h-23zM327 487h7v7h-7zM522 487h7v7h-7zM147 494h7v8h-7zM214 494h8v8h-8zM289 494h8v8h-8zM327 494h7v8h-7zM364 494h8v8h-8zM409 494h8v8h-8zM529 494h8v8h-8zM177 502h7v7h-7zM252 502h7v7h-7zM364 502h8v7h-8zM409 502h8v7h-8zM447 502h7v7h-7zM169 509h8v8h-8zM237 509h7v8h-7zM477 509h7v8h-7zM207 517h7v7h-7zM544 517h8v7h-8zM567 517h7v7h-7zM222 524h7v8h-7zM387 524h7v8h-7zM544 524h8v8h-8zM237 532h7v9h-7z"/>
<path fill="#30ffc7" d="M132 60h7v7h-7zM379 60h8v7h-8zM409 60h8v7h-8zM454 60h8v7h-8zM477 60h7v7h-7zM582 60h7v7h-7zM124 67h8v7h-8zM147 67h7v7h-7zM297 67h15v7h-15zM319 67h15v7h-15zM432 67h7v7h-7zM469 67h8v7h-8zM492 67h7v7h-7zM529 67h8v7h-8zM544 67h15v7h-15zM567 67h15v7h-15zM139 74h23v8h-23zM259 74h8v8h-8zM304 74h8v8h-8zM327 74h7v8h-7zM349 74h8v8h-8zM402 74h7v8h-7zM447 74h7v8h-7zM484 74h53v8h-53zM544 74h38v8h-38zM132 82h7v7h-7zM147 82h15v7h-15zM169 82h8v7h-8zM192 82h7v7h-7zM297 82h7v7h-7zM312 82h7v7h-7zM327 82h22v7h-22zM357 82h7v7h-7zM394 82h8v7h-8zM439 82h15v7h-15zM492 82h7v7h-7zM507 82h22v7h-22zM537 82h30v7h-30zM574 82h8v7h-8zM132 89h7v8h-7zM147 89h22v8h-22zM289 89h8v8h-8zM312 89h7v8h-7zM409 89h8v8h-8zM424 89h8v8h-8zM477 89h7v8h-7zM492 89h37v8h-37zM559 89h8v8h-8zM124 97h8v7h-8zM162 97h7v7h-7zM282 97h22v7h-22zM342 97h7v7h-7zM372 97h15v7h-15zM394 97h8v7h-8zM477 97h7v7h-7zM514 97h8v7h-8zM529 97h23v7h-23zM559 97h8v7h-8zM574 97h8v7h-8zM154 104h15v8h-15zM282 104h7v8h-7zM342 104h7v8h-7zM379 104h8v8h-8zM424 104h8v8h-8zM507 104h7v8h-7zM529 104h8v8h-8zM544 104h8v8h-8zM574 104h8v8h-8zM132 112h7v7h-7zM169 112h8v7h-8zM267 112h7v7h-7zM289 112h15v7h-15zM327 112h7v7h-7zM342 112h7v7h-7zM432 112h15v7h-15zM454 112h8v7h-8zM544 112h8v7h-8zM559 112h8v7h-8zM582 112h7v7h-7zM132 119h15v8h-15zM154 119h15v8h-15zM192 119h7v8h-7zM244 119h8v8h-8zM267 119h15v8h-15zM349 119h8v8h-8zM499 119h38v8h-38zM552 119h30v8h-30zM589 119h8v8h-8zM124 127h8v7h-8zM139 127h45v7h-45zM237 127h7v7h-7zM267 127h15v7h-15zM289 127h8v7h-8zM327 127h7v7h-7zM349 127h8v7h-8zM379 127h8v7h-8zM454 127h8v7h-8zM477 127h7v7h-7zM514 127h8v7h-8zM559 127h23v7h-23zM124 134h8v8h-8zM139 134h38v8h-38zM259 134h8v8h-8zM282 134h7v8h-7zM297 134h7v8h-7zM327 134h7v8h-7zM432 134h7v8h-7zM447 134h15v8h-15zM484 134h8v8h-8zM507 134h30v8h-30zM552 134h15v8h-15zM574 134h8v8h-8zM124 142h8v7h-8zM139 142h8v7h-8zM154 142h8v7h-8zM169 142h8v7h-8zM274 142h8v7h-8zM297 142h7v7h-7zM319 142h8v7h-8zM334 142h23v7h-23zM484 142h8v7h-8zM499 142h8v7h-8zM552 142h7v7h-7zM574 142h8v7h-8zM139 149h38v8h-38zM244 149h8v8h-8zM334 149h8v8h-8zM469 149h23v8h-23zM507 149h7v8h-7zM567 149h15v8h-15zM139 157h8v7h-8zM154 157h23v7h-23zM259 157h8v7h-8zM282 157h7v7h-7zM319 157h8v7h-8zM507 157h7v7h-7zM522 157h15v7h-15zM544 157h38v7h-38zM124 164h8v8h-8zM147 164h7v8h-7zM169 164h8v8h-8zM237 164h7v8h-7zM319 164h23v8h-23zM372 164h7v8h-7zM402 164h7v8h-7zM492 164h7v8h-7zM507 164h7v8h-7zM537 164h7v8h-7zM552 164h30v8h-30zM169 172h8v7h-8zM289 172h8v7h-8zM507 172h7v7h-7zM529 172h8v7h-8zM544 172h15v7h-15zM132 179h7v8h-7zM147 179h7v8h-7zM169 179h15v8h-15zM229 179h8v8h-8zM424 179h8v8h-8zM469 179h8v8h-8zM522 179h7v8h-7zM537 179h37v8h-37zM132 187h15v7h-15zM162 187h15v7h-15zM192 187h30v7h-30zM387 187h7v7h-7zM522 187h15v7h-15zM544 187h38v7h-38zM139 194h15v8h-15zM177 194h7v8h-7zM199 194h23v8h-23zM394 194h15v8h-15zM432 194h7v8h-7zM484 194h8v8h-8zM522 194h22v8h-22zM552 194h7v8h-7zM582 194h7v8h-7zM116 202h8v7h-8zM132 202h22v7h-22zM184 202h8v7h-8zM199 202h8v7h-8zM222 202h7v7h-7zM454 202h8v7h-8zM492 202h15v7h-15zM514 202h8v7h-8zM529 202h8v7h-8zM559 202h15v7h-15zM139 209h15v8h-15zM162 209h30v8h-30zM207 209h7v8h-7zM229 209h15v8h-15zM387 209h7v8h-7zM432 209h7v8h-7zM454 209h8v8h-8zM477 209h7v8h-7zM499 209h8v8h-8zM514 209h15v8h-15zM544 209h8v8h-8zM574 209h8v8h-8zM132 217h7v7h-7zM147 217h7v7h-7zM192 217h7v7h-7zM207 217h7v7h-7zM274 217h8v7h-8zM432 217h15v7h-15zM454 217h8v7h-8zM499 217h15v7h-15zM522 217h7v7h-7zM544 217h8v7h-8zM574 217h8v7h-8zM132 224h15v8h-15zM154 224h8v8h-8zM192 224h7v8h-7zM207 224h7v8h-7zM379 224h8v8h-8zM417 224h7v8h-7zM499 224h8v8h-8zM514 224h15v8h-15zM567 224h7v8h-7zM582 224h7v8h-7zM116 232h8v7h-8zM154 232h8v7h-8zM184 232h15v7h-15zM214 232h8v7h-8zM372 232h7v7h-7zM402 232h7v7h-7zM432 232h7v7h-7zM447 232h15v7h-15zM469 232h15v7h-15zM492 232h7v7h-7zM567 232h22v7h-22zM116 239h8v8h-8zM147 239h7v8h-7zM207 239h7v8h-7zM357 239h7v8h-7zM447 239h15v8h-15zM477 239h7v8h-7zM514 239h8v8h-8zM529 239h8v8h-8zM544 239h15v8h-15zM574 239h23v8h-23zM132 247h7v7h-7zM147 247h15v7h-15zM169 247h8v7h-8zM379 247h8v7h-8zM417 247h7v7h-7zM454 247h8v7h-8zM477 247h7v7h-7zM499 247h23v7h-23zM529 247h8v7h-8zM544 247h8v7h-8zM559 247h15v7h-15zM147 254h15v8h-15zM177 254h7v8h-7zM199 254h8v8h-8zM319 254h8v8h-8zM372 254h7v8h-7zM454 254h8v8h-8zM492 254h7v8h-7zM522 254h7v8h-7zM537 254h52v8h-52zM132 262h7v7h-7zM162 262h7v7h-7zM184 262h8v7h-8zM199 262h8v7h-8zM214 262h15v7h-15zM357 262h7v7h-7zM372 262h7v7h-7zM417 262h7v7h-7zM469 262h8v7h-8zM499 262h15v7h-15zM522 262h7v7h-7zM574 262h15v7h-15zM162 269h7v8h-7zM379 269h8v8h-8zM417 269h7v8h-7zM439 269h15v8h-15zM499 269h8v8h-8zM522 269h15v8h-15zM552 269h15v8h-15zM574 269h8v8h-8zM154 277h8v7h-8zM192 277h7v7h-7zM229 277h8v7h-8zM357 277h15v7h-15zM379 277h15v7h-15zM424 277h8v7h-8zM499 277h8v7h-8zM522 277h7v7h-7zM544 277h23v7h-23zM574 277h15v7h-15zM139 284h8v8h-8zM162 284h7v8h-7zM214 284h8v8h-8zM379 284h8v8h-8zM462 284h7v8h-7zM492 284h7v8h-7zM507 284h7v8h-7zM522 284h7v8h-7zM552 284h15v8h-15zM124 292h8v7h-8zM184 292h8v7h-8zM229 292h8v7h-8zM357 292h7v7h-7zM379 292h15v7h-15zM447 292h7v7h-7zM477 292h30v7h-30zM559 292h8v7h-8zM574 292h8v7h-8zM589 292h8v7h-8zM116 299h16v8h-16zM139 299h8v8h-8zM154 299h23v8h-23zM199 299h15v8h-15zM229 299h8v8h-8zM304 299h8v8h-8zM327 299h7v8h-7zM514 299h23v8h-23zM544 299h8v8h-8zM574 299h8v8h-8zM139 307h23v7h-23zM169 307h53v7h-53zM259 307h15v7h-15zM312 307h15v7h-15zM334 307h8v7h-8zM417 307h7v7h-7zM507 307h15v7h-15zM544 307h8v7h-8zM559 307h8v7h-8zM582 307h7v7h-7zM116 314h8v8h-8zM132 314h30v8h-30zM199 314h38v8h-38zM259 314h23v8h-23zM424 314h8v8h-8zM469 314h8v8h-8zM492 314h7v8h-7zM522 314h7v8h-7zM537 314h15v8h-15zM567 314h7v8h-7zM139 322h8v7h-8zM177 322h15v7h-15zM199 322h30v7h-30zM252 322h7v7h-7zM289 322h8v7h-8zM327 322h15v7h-15zM499 322h8v7h-8zM529 322h53v7h-53zM147 329h7v8h-7zM162 329h52v8h-52zM222 329h22v8h-22zM304 329h8v8h-8zM342 329h15v8h-15zM379 329h8v8h-8zM402 329h15v8h-15zM432 329h7v8h-7zM514 329h8v8h-8zM529 329h8v8h-8zM552 329h22v8h-22zM582 329h7v8h-7zM139 337h8v7h-8zM154 337h8v7h-8zM169 337h8v7h-8zM192 337h7v7h-7zM222 337h7v7h-7zM244 337h8v7h-8zM319 337h8v7h-8zM334 337h8v7h-8zM387 337h15v7h-15zM424 337h8v7h-8zM499 337h8v7h-8zM529 337h30v7h-30zM567 337h22v7h-22zM132 344h7v8h-7zM154 344h8v8h-8zM169 344h8v8h-8zM199 344h8v8h-8zM214 344h8v8h-8zM259 344h8v8h-8zM274 344h8v8h-8zM297 344h15v8h-15zM334 344h8v8h-8zM372 344h15v8h-15zM394 344h8v8h-8zM409 344h15v8h-15zM499 344h15v8h-15zM522 344h22v8h-22zM552 344h15v8h-15zM154 352h8v7h-8zM177 352h7v7h-7zM192 352h22v7h-22zM229 352h8v7h-8zM282 352h7v7h-7zM297 352h7v7h-7zM312 352h15v7h-15zM334 352h8v7h-8zM372 352h7v7h-7zM439 352h8v7h-8zM522 352h7v7h-7zM559 352h8v7h-8zM132 359h15v8h-15zM199 359h8v8h-8zM222 359h15v8h-15zM304 359h23v8h-23zM334 359h8v8h-8zM349 359h8v8h-8zM424 359h15v8h-15zM447 359h7v8h-7zM514 359h15v8h-15zM537 359h15v8h-15zM559 359h8v8h-8zM582 359h7v8h-7zM124 367h23v7h-23zM154 367h8v7h-8zM192 367h7v7h-7zM207 367h15v7h-15zM267 367h7v7h-7zM282 367h7v7h-7zM312 367h7v7h-7zM327 367h7v7h-7zM349 367h8v7h-8zM394 367h8v7h-8zM409 367h8v7h-8zM499 367h8v7h-8zM529 367h8v7h-8zM559 367h15v7h-15zM582 367h7v7h-7zM124 374h8v8h-8zM139 374h8v8h-8zM154 374h8v8h-8zM177 374h7v8h-7zM192 374h7v8h-7zM222 374h7v8h-7zM237 374h7v8h-7zM259 374h8v8h-8zM282 374h7v8h-7zM334 374h8v8h-8zM372 374h15v8h-15zM402 374h7v8h-7zM417 374h7v8h-7zM499 374h23v8h-23zM537 374h15v8h-15zM559 374h30v8h-30zM124 382h8v7h-8zM139 382h15v7h-15zM162 382h7v7h-7zM177 382h7v7h-7zM207 382h22v7h-22zM244 382h15v7h-15zM274 382h8v7h-8zM297 382h15v7h-15zM319 382h8v7h-8zM334 382h8v7h-8zM364 382h8v7h-8zM379 382h8v7h-8zM417 382h7v7h-7zM492 382h30v7h-30zM552 382h15v7h-15zM574 382h8v7h-8zM124 389h8v8h-8zM147 389h7v8h-7zM192 389h30v8h-30zM282 389h7v8h-7zM312 389h15v8h-15zM357 389h7v8h-7zM409 389h23v8h-23zM439 389h8v8h-8zM499 389h8v8h-8zM537 389h52v8h-52zM124 397h8v7h-8zM162 397h37v7h-37zM207 397h22v7h-22zM259 397h8v7h-8zM282 397h7v7h-7zM304 397h15v7h-15zM327 397h7v7h-7zM372 397h7v7h-7zM387 397h7v7h-7zM492 397h22v7h-22zM537 397h52v7h-52zM132 404h7v8h-7zM169 404h8v8h-8zM192 404h30v8h-30zM252 404h7v8h-7zM267 404h30v8h-30zM304 404h8v8h-8zM319 404h15v8h-15zM357 404h15v8h-15zM379 404h23v8h-23zM409 404h8v8h-8zM432 404h7v8h-7zM477 404h22v8h-22zM507 404h7v8h-7zM522 404h22v8h-22zM552 404h7v8h-7zM567 404h7v8h-7zM582 404h7v8h-7zM124 412h8v7h-8zM147 412h7v7h-7zM162 412h7v7h-7zM177 412h7v7h-7zM199 412h8v7h-8zM274 412h8v7h-8zM289 412h8v7h-8zM319 412h8v7h-8zM357 412h7v7h-7zM372 412h7v7h-7zM462 412h7v7h-7zM522 412h22v7h-22zM574 412h8v7h-8zM169 419h53v8h-53zM237 419h7v8h-7zM252 419h15v8h-15zM274 419h8v8h-8zM297 419h7v8h-7zM334 419h30v8h-30zM409 419h8v8h-8zM439 419h8v8h-8zM462 419h15v8h-15zM514 419h8v8h-8zM544 419h8v8h-8zM169 427h8v7h-8zM184 427h38v7h-38zM229 427h15v7h-15zM252 427h15v7h-15zM289 427h8v7h-8zM319 427h8v7h-8zM334 427h8v7h-8zM349 427h8v7h-8zM372 427h7v7h-7zM417 427h7v7h-7zM432 427h7v7h-7zM447 427h30v7h-30zM529 427h8v7h-8zM582 427h7v7h-7zM162 434h7v8h-7zM184 434h8v8h-8zM214 434h23v8h-23zM267 434h7v8h-7zM312 434h15v8h-15zM342 434h22v8h-22zM379 434h8v8h-8zM409 434h8v8h-8zM424 434h15v8h-15zM447 434h22v8h-22zM529 434h15v8h-15zM552 434h22v8h-22zM154 442h8v7h-8zM214 442h8v7h-8zM237 442h7v7h-7zM282 442h7v7h-7zM297 442h7v7h-7zM312 442h7v7h-7zM327 442h7v7h-7zM349 442h15v7h-15zM387 442h7v7h-7zM417 442h52v7h-52zM514 442h60v7h-60zM147 449h22v8h-22zM184 449h15v8h-15zM207 449h15v8h-15zM237 449h7v8h-7zM267 449h7v8h-7zM282 449h7v8h-7zM297 449h7v8h-7zM312 449h15v8h-15zM379 449h15v8h-15zM409 449h8v8h-8zM424 449h45v8h-45zM507 449h22v8h-22zM537 449h15v8h-15zM559 449h8v8h-8zM589 449h8v8h-8zM132 457h7v7h-7zM154 457h8v7h-8zM169 457h38v7h-38zM252 457h7v7h-7zM274 457h8v7h-8zM289 457h8v7h-8zM312 457h7v7h-7zM349 457h8v7h-8zM387 457h15v7h-15zM417 457h37v7h-37zM462 457h7v7h-7zM507 457h60v7h-60zM132 464h7v8h-7zM147 464h7v8h-7zM162 464h15v8h-15zM207 464h7v8h-7zM259 464h8v8h-8zM289 464h8v8h-8zM312 464h7v8h-7zM327 464h7v8h-7zM342 464h15v8h-15zM379 464h53v8h-53zM462 464h7v8h-7zM507 464h37v8h-37zM132 472h22v7h-22zM162 472h7v7h-7zM184 472h15v7h-15zM237 472h7v7h-7zM319 472h8v7h-8zM342 472h7v7h-7zM379 472h30v7h-30zM417 472h15v7h-15zM439 472h8v7h-8zM499 472h45v7h-45zM552 472h7v7h-7zM567 472h7v7h-7zM589 472h8v7h-8zM192 479h7v8h-7zM237 479h7v8h-7zM267 479h30v8h-30zM327 479h7v8h-7zM342 479h7v8h-7zM387 479h15v8h-15zM424 479h23v8h-23zM499 479h8v8h-8zM514 479h15v8h-15zM537 479h30v8h-30zM589 479h8v8h-8zM132 487h67v7h-67zM252 487h7v7h-7zM282 487h7v7h-7zM304 487h15v7h-15zM379 487h38v7h-38zM462 487h7v7h-7zM514 487h8v7h-8zM529 487h15v7h-15zM559 487h15v7h-15zM124 494h23v8h-23zM162 494h7v8h-7zM177 494h22v8h-22zM252 494h7v8h-7zM267 494h22v8h-22zM312 494h7v8h-7zM349 494h8v8h-8zM379 494h30v8h-30zM432 494h7v8h-7zM514 494h8v8h-8zM537 494h30v8h-30zM116 502h8v7h-8zM132 502h45v7h-45zM184 502h8v7h-8zM237 502h7v7h-7zM267 502h7v7h-7zM282 502h15v7h-15zM387 502h22v7h-22zM424 502h8v7h-8zM462 502h7v7h-7zM529 502h15v7h-15zM552 502h37v7h-37zM124 509h8v8h-8zM154 509h8v8h-8zM222 509h7v8h-7zM244 509h8v8h-8zM267 509h7v8h-7zM297 509h7v8h-7zM387 509h30v8h-30zM447 509h7v8h-7zM537 509h45v8h-45zM116 517h8v7h-8zM177 517h15v7h-15zM244 517h8v7h-8zM289 517h8v7h-8zM379 517h8v7h-8zM394 517h15v7h-15zM447 517h7v7h-7zM492 517h7v7h-7zM537 517h7v7h-7zM552 517h15v7h-15zM574 517h8v7h-8zM184 524h8v8h-8zM244 524h8v8h-8zM379 524h8v8h-8zM394 524h23v8h-23zM447 524h7v8h-7zM492 524h7v8h-7zM552 524h7v8h-7zM582 524h7v8h-7zM199 532h8v9h-8zM477 532h7v9h-7z"/>
<path fill="#70ff87" d="M124 60h8v7h-8zM139 60h8v7h-8zM402 60h7v7h-7zM447 60h7v7h-7zM469 60h8v7h-8zM484 60h8v7h-8zM544 60h15v7h-15zM192 67h15v7h-15zM334 67h8v7h-8zM357 67h7v7h-7zM439 67h8v7h-8zM484 67h8v7h-8zM499 67h30v7h-30zM559 67h8v7h-8zM589 67h8v7h-8zM132 74h7v8h-7zM162 74h15v8h-15zM184 74h8v8h-8zM297 74h7v8h-7zM312 74h7v8h-7zM357 74h15v8h-15zM477 74h7v8h-7zM582 74h7v8h-7zM124 82h8v7h-8zM274 82h8v7h-8zM289 82h8v7h-8zM402 82h7v7h-7zM124 89h8v8h-8zM274 89h8v8h-8zM342 89h7v8h-7zM469 89h8v8h-8zM552 89h7v8h-7zM582 89h7v8h-7zM267 97h7v7h-7zM349 97h8v7h-8zM124 104h8v8h-8zM267 104h7v8h-7zM477 104h7v8h-7zM537 104h7v8h-7zM552 104h7v8h-7zM124 112h8v7h-8zM199 112h8v7h-8zM537 112h7v7h-7zM589 112h8v7h-8zM177 119h7v8h-7zM342 119h7v8h-7zM432 119h7v8h-7zM132 127h7v7h-7zM342 127h7v7h-7zM492 127h7v7h-7zM537 127h7v7h-7zM132 134h7v8h-7zM177 134h7v8h-7zM409 134h8v8h-8zM439 134h8v8h-8zM477 134h7v8h-7zM582 134h7v8h-7zM132 142h7v7h-7zM177 142h7v7h-7zM259 142h8v7h-8zM462 142h7v7h-7zM477 142h7v7h-7zM582 142h7v7h-7zM357 149h7v8h-7zM537 149h7v8h-7zM582 149h7v8h-7zM124 157h8v7h-8zM342 157h7v7h-7zM477 157h7v7h-7zM492 157h7v7h-7zM132 164h15v8h-15zM184 164h8v8h-8zM342 164h7v8h-7zM379 164h8v8h-8zM394 164h8v8h-8zM447 164h7v8h-7zM477 164h7v8h-7zM544 164h8v8h-8zM162 172h7v7h-7zM259 172h15v7h-15zM312 172h7v7h-7zM334 172h8v7h-8zM469 172h8v7h-8zM567 172h7v7h-7zM116 179h8v8h-8zM139 179h8v8h-8zM162 179h7v8h-7zM192 179h7v8h-7zM417 179h7v8h-7zM477 179h7v8h-7zM499 179h8v8h-8zM574 179h8v8h-8zM116 187h8v7h-8zM147 187h7v7h-7zM162 194h7v8h-7zM387 194h7v8h-7zM154 202h8v7h-8zM229 202h8v7h-8zM379 202h8v7h-8zM537 202h7v7h-7zM154 217h8v7h-8zM229 217h8v7h-8zM582 217h7v7h-7zM116 224h8v8h-8zM169 224h8v8h-8zM214 224h8v8h-8zM169 232h8v7h-8zM207 232h7v7h-7zM357 232h7v7h-7zM589 232h8v7h-8zM177 239h7v8h-7zM469 247h8v7h-8zM582 247h15v7h-15zM184 254h8v8h-8zM214 254h8v8h-8zM469 254h15v8h-15zM124 262h8v7h-8zM477 262h7v7h-7zM469 269h8v8h-8zM544 269h8v8h-8zM289 277h8v7h-8zM432 277h15v7h-15zM477 277h7v7h-7zM589 277h8v7h-8zM147 284h7v8h-7zM184 284h8v8h-8zM199 284h8v8h-8zM319 284h15v8h-15zM357 284h7v8h-7zM402 284h7v8h-7zM477 284h7v8h-7zM529 284h8v8h-8zM567 284h7v8h-7zM132 292h7v7h-7zM199 292h8v7h-8zM372 292h7v7h-7zM529 292h15v7h-15zM147 299h7v8h-7zM177 299h15v8h-15zM349 299h8v8h-8zM372 299h7v8h-7zM499 299h15v8h-15zM222 307h15v7h-15zM552 307h7v7h-7zM192 314h7v8h-7zM282 314h7v8h-7zM559 314h8v8h-8zM124 322h15v7h-15zM229 322h8v7h-8zM267 322h7v7h-7zM417 322h7v7h-7zM507 322h22v7h-22zM244 329h8v8h-8zM544 329h8v8h-8zM116 337h16v7h-16zM177 337h7v7h-7zM304 337h8v7h-8zM379 337h8v7h-8zM454 337h8v7h-8zM492 337h7v7h-7zM139 344h15v8h-15zM162 344h7v8h-7zM222 344h15v8h-15zM244 344h8v8h-8zM544 344h8v8h-8zM582 344h7v8h-7zM214 352h8v7h-8zM364 352h8v7h-8zM544 352h8v7h-8zM582 352h7v7h-7zM116 359h8v8h-8zM552 359h7v8h-7zM116 367h8v7h-8zM229 367h8v7h-8zM304 367h8v7h-8zM379 367h8v7h-8zM507 367h7v7h-7zM522 367h7v7h-7zM544 367h8v7h-8zM207 374h7v8h-7zM439 374h8v8h-8zM484 374h15v8h-15zM529 374h8v8h-8zM552 374h7v8h-7zM229 382h8v7h-8zM327 382h7v7h-7zM394 382h8v7h-8zM454 382h8v7h-8zM477 382h15v7h-15zM582 382h15v7h-15zM184 389h8v8h-8zM229 389h8v8h-8zM244 389h8v8h-8zM334 389h8v8h-8zM387 389h7v8h-7zM432 389h7v8h-7zM477 389h7v8h-7zM514 389h8v8h-8zM529 389h8v8h-8zM116 397h8v7h-8zM132 397h7v7h-7zM229 397h8v7h-8zM357 397h7v7h-7zM394 397h8v7h-8zM477 397h7v7h-7zM529 397h8v7h-8zM124 404h8v8h-8zM154 404h8v8h-8zM244 404h8v8h-8zM499 404h8v8h-8zM514 404h8v8h-8zM559 404h8v8h-8zM574 404h8v8h-8zM589 404h8v8h-8zM139 412h8v7h-8zM169 412h8v7h-8zM304 412h8v7h-8zM469 412h8v7h-8zM484 412h15v7h-15zM544 412h15v7h-15zM589 412h8v7h-8zM312 419h7v8h-7zM417 419h7v8h-7zM477 419h7v8h-7zM552 419h7v8h-7zM567 419h7v8h-7zM589 419h8v8h-8zM222 427h7v7h-7zM312 427h7v7h-7zM537 427h7v7h-7zM559 427h8v7h-8zM154 434h8v8h-8zM207 434h7v8h-7zM237 434h7v8h-7zM304 434h8v8h-8zM417 434h7v8h-7zM439 434h8v8h-8zM469 434h15v8h-15zM514 434h8v8h-8zM589 434h8v8h-8zM147 442h7v7h-7zM229 442h8v7h-8zM274 442h8v7h-8zM402 442h7v7h-7zM499 442h8v7h-8zM589 442h8v7h-8zM139 449h8v8h-8zM199 449h8v8h-8zM229 449h8v8h-8zM274 449h8v8h-8zM327 449h7v8h-7zM372 449h7v8h-7zM417 449h7v8h-7zM499 449h8v8h-8zM529 449h8v8h-8zM567 449h7v8h-7zM162 457h7v7h-7zM207 457h7v7h-7zM237 457h7v7h-7zM319 457h8v7h-8zM372 457h15v7h-15zM499 457h8v7h-8zM116 464h8v8h-8zM177 464h15v8h-15zM237 464h7v8h-7zM274 464h8v8h-8zM357 464h7v8h-7zM432 464h7v8h-7zM469 464h8v8h-8zM499 464h8v8h-8zM552 464h22v8h-22zM169 472h8v7h-8zM297 472h7v7h-7zM334 472h8v7h-8zM357 472h7v7h-7zM372 472h7v7h-7zM432 472h7v7h-7zM469 472h8v7h-8zM544 472h8v7h-8zM252 479h7v8h-7zM297 479h7v8h-7zM312 479h7v8h-7zM357 479h7v8h-7zM372 479h7v8h-7zM417 479h7v8h-7zM469 479h8v8h-8zM484 479h8v8h-8zM507 479h7v8h-7zM567 479h7v8h-7zM116 487h8v7h-8zM349 487h15v7h-15zM372 487h7v7h-7zM417 487h37v7h-37zM484 487h15v7h-15zM552 487h7v7h-7zM589 487h8v7h-8zM116 494h8v8h-8zM169 494h8v8h-8zM259 494h8v8h-8zM297 494h7v8h-7zM319 494h8v8h-8zM342 494h7v8h-7zM372 494h7v8h-7zM417 494h15v8h-15zM462 494h7v8h-7zM522 494h7v8h-7zM567 494h7v8h-7zM589 494h8v8h-8zM192 502h15v7h-15zM274 502h8v7h-8zM334 502h8v7h-8zM379 502h8v7h-8zM417 502h7v7h-7zM432 502h7v7h-7zM514 502h8v7h-8zM589 502h8v7h-8zM116 509h8v8h-8zM139 509h8v8h-8zM162 509h7v8h-7zM184 509h23v8h-23zM259 509h8v8h-8zM282 509h15v8h-15zM364 509h8v8h-8zM379 509h8v8h-8zM417 509h22v8h-22zM499 509h8v8h-8zM139 517h15v7h-15zM282 517h7v7h-7zM364 517h15v7h-15zM417 517h30v7h-30zM484 517h8v7h-8zM529 517h8v7h-8zM582 517h7v7h-7zM124 524h8v8h-8zM199 524h8v8h-8zM237 524h7v8h-7zM274 524h23v8h-23zM364 524h8v8h-8zM417 524h30v8h-30zM484 524h8v8h-8zM529 524h8v8h-8zM559 524h8v8h-8zM222 532h7v9h-7zM372 532h7v9h-7zM484 532h15v9h-15z"/>
<path fill="#aaff4d" d="M319 60h8v7h-8zM342 60h15v7h-15zM394 60h8v7h-8zM417 60h7v7h-7zM492 60h15v7h-15zM514 60h23v7h-23zM559 60h23v7h-23zM132 67h15v7h-15zM154 67h8v7h-8zM177 67h7v7h-7zM124 74h8v8h-8zM237 74h7v8h-7zM274 74h8v8h-8zM289 74h8v8h-8zM582 97h15v7h-15zM177 112h7v7h-7zM184 127h8v7h-8zM589 127h8v7h-8zM184 134h8v8h-8zM589 134h8v8h-8zM116 149h16v8h-16zM184 149h8v8h-8zM417 157h7v7h-7zM454 157h8v7h-8zM582 157h7v7h-7zM124 172h8v7h-8zM244 172h15v7h-15zM274 172h8v7h-8zM297 172h15v7h-15zM477 172h7v7h-7zM207 179h7v8h-7zM116 194h8v8h-8zM582 202h7v7h-7zM379 217h8v7h-8zM132 254h7v8h-7zM589 254h8v8h-8zM589 262h8v7h-8zM229 269h8v8h-8zM116 277h8v7h-8zM116 284h8v8h-8zM192 284h7v8h-7zM409 284h8v8h-8zM192 292h7v7h-7zM207 292h7v7h-7zM132 299h7v8h-7zM589 307h8v7h-8zM589 314h8v8h-8zM469 322h8v7h-8zM582 322h7v7h-7zM116 329h8v8h-8zM229 337h8v7h-8zM116 344h8v8h-8zM402 344h7v8h-7zM484 359h8v8h-8zM454 367h8v7h-8zM589 367h8v7h-8zM116 374h8v8h-8zM229 374h8v8h-8zM589 374h8v8h-8zM116 382h8v7h-8zM522 382h7v7h-7zM334 397h8v7h-8zM116 404h8v8h-8zM222 404h7v8h-7zM402 404h7v8h-7zM454 404h8v8h-8zM132 412h7v7h-7zM184 412h15v7h-15zM214 412h8v7h-8zM514 412h8v7h-8zM567 412h7v7h-7zM162 419h7v8h-7zM507 434h7v8h-7zM522 434h7v8h-7zM469 442h8v7h-8zM507 442h7v7h-7zM349 449h15v8h-15zM116 457h8v7h-8zM357 457h7v7h-7zM469 457h8v7h-8zM492 457h7v7h-7zM372 464h7v8h-7zM447 464h7v8h-7zM492 464h7v8h-7zM207 472h7v7h-7zM116 479h8v8h-8zM447 479h7v8h-7zM334 487h15v7h-15zM507 487h7v7h-7zM199 494h8v8h-8zM229 494h8v8h-8zM439 494h8v8h-8zM484 494h8v8h-8zM207 502h7v7h-7zM349 502h15v7h-15zM372 502h7v7h-7zM439 502h8v7h-8zM522 502h7v7h-7zM439 509h8v8h-8zM469 509h8v8h-8zM522 509h7v8h-7zM582 509h7v8h-7zM132 517h7v7h-7zM154 517h8v7h-8zM267 517h15v7h-15zM349 517h15v7h-15zM589 517h8v7h-8zM192 524h7v8h-7zM252 524h7v8h-7zM537 524h7v8h-7zM574 524h8v8h-8zM589 524h8v8h-8zM124 532h8v9h-8zM192 532h7v9h-7zM244 532h8v9h-8zM259 532h8v9h-8zM387 532h15v9h-15z"/>
<path fill="#e4ff13" d="M154 60h8v7h-8zM507 60h7v7h-7zM537 60h7v7h-7zM162 67h7v7h-7zM312 67h7v7h-7zM477 67h7v7h-7zM537 67h7v7h-7zM116 74h8v8h-8zM199 74h8v8h-8zM259 82h8v7h-8zM589 89h8v8h-8zM177 104h7v8h-7zM192 149h7v8h-7zM424 164h8v8h-8zM154 172h8v7h-8zM357 179h7v8h-7zM387 202h7v7h-7zM116 209h8v8h-8zM116 217h8v7h-8zM116 269h8v8h-8zM469 284h8v8h-8zM589 299h8v8h-8zM589 322h8v7h-8zM492 329h7v8h-7zM589 389h8v8h-8zM589 397h8v7h-8zM559 419h8v8h-8zM469 449h8v8h-8zM567 457h7v7h-7zM447 472h7v7h-7zM357 494h7v8h-7zM319 502h8v7h-8zM469 502h8v7h-8zM484 502h8v7h-8zM349 509h15v8h-15zM484 509h8v8h-8zM237 517h7v7h-7zM469 517h8v7h-8zM116 524h8v8h-8zM139 524h8v8h-8zM177 524h7v8h-7zM162 532h7v9h-7zM499 532h8v9h-8zM582 532h7v9h-7z"/>
<path fill="#ffd700" d="M147 60h7v7h-7zM199 60h8v7h-8zM237 60h7v7h-7zM334 60h8v7h-8zM589 60h8v7h-8zM184 82h8v7h-8zM177 89h7v8h-7zM199 89h8v8h-8zM259 97h8v7h-8zM199 119h8v8h-8zM116 127h8v7h-8zM116 142h8v7h-8zM116 157h8v7h-8zM192 157h7v7h-7zM116 164h8v8h-8zM192 164h15v8h-15zM147 172h7v7h-7zM116 254h8v8h-8zM244 299h8v8h-8zM116 307h8v7h-8zM116 322h8v7h-8zM589 337h8v7h-8zM139 389h8v8h-8zM116 412h8v7h-8zM492 449h7v8h-7zM469 487h8v7h-8zM469 494h8v8h-8zM229 502h8v7h-8zM589 509h8v8h-8zM462 524h7v8h-7zM477 524h7v8h-7zM567 524h7v8h-7zM282 532h15v9h-15zM424 532h8v9h-8zM439 532h8v9h-8zM462 532h7v9h-7zM507 532h7v9h-7zM537 532h7v9h-7z"/>
<path fill="#ff9f00" d="M177 60h7v7h-7zM116 97h8v7h-8zM199 97h8v7h-8zM116 104h8v8h-8zM192 112h7v7h-7zM184 119h8v8h-8zM116 134h8v8h-8zM184 142h8v7h-8zM199 149h8v8h-8zM177 172h7v7h-7zM192 172h15v7h-15zM582 187h7v7h-7zM334 254h8v8h-8zM116 262h8v7h-8zM116 389h8v8h-8zM387 427h7v7h-7zM116 472h8v7h-8zM469 524h8v8h-8zM252 532h7v9h-7zM274 532h8v9h-8zM342 532h7v9h-7zM379 532h8v9h-8zM409 532h15v9h-15zM544 532h8v9h-8zM589 532h8v9h-8z"/>
<path fill="#ff4700" d="M589 74h8v8h-8zM184 97h8v7h-8zM192 104h7v8h-7zM184 112h8v7h-8zM116 119h8v8h-8zM199 142h8v7h-8zM184 157h8v7h-8zM116 172h8v7h-8zM589 329h8v8h-8zM589 359h8v8h-8zM116 532h8v9h-8zM297 532h15v9h-15zM364 532h8v9h-8zM432 532h7v9h-7zM447 532h7v9h-7zM574 532h8v9h-8z"/>
<path fill="#ed0400" d="M177 97h7v7h-7zM192 142h7v7h-7zM312 524h7v8h-7z"/>
<path fill="#b20000" d="M116 89h8v8h-8zM552 532h7v9h-7z"/>
<path fill="#800000" d="M177 532h7v9h-7z"/>
</g>
<rect x="116.5" y="60.5" width="480" height="480" fill="none" stroke="#000" stroke-width="1"/>
<g>
<path d="M627 81.8 L638 60 L649 81.8 L649 518.2 L638 540 L627 518.2 Z" fill="url(#jet)" stroke="#000" stroke-width="1.39" stroke-linejoin="miter"/>
</g>
<path d="M120.5 540.5v-5.5M120.5 60.5v5.5M116.5 536.5h5.5M596.5 536.5h-5.5M195.5 540.5v-5.5M195.5 60.5v5.5M116.5 461.5h5.5M596.5 461.5h-5.5M270.5 540.5v-5.5M270.5 60.5v5.5M116.5 386.5h5.5M596.5 386.5h-5.5M345.5 540.5v-5.5M345.5 60.5v5.5M116.5 311.5h5.5M596.5 311.5h-5.5M420.5 540.5v-5.5M420.5 60.5v5.5M116.5 236.5h5.5M596.5 236.5h-5.5M495.5 540.5v-5.5M495.5 60.5v5.5M116.5 161.5h5.5M596.5 161.5h-5.5M570.5 540.5v-5.5M570.5 60.5v5.5M116.5 86.5h5.5M596.5 86.5h-5.5M649 518.5h-5.5M649 464.5h-5.5M649 411.5h-5.5M649 358.5h-5.5M649 305.5h-5.5M649 252.5h-5.5M649 198.5h-5.5M649 145.5h-5.5M649 92.5h-5.5" stroke="#000" stroke-width="1" fill="none" shape-rendering="crispEdges"/>
</svg>
<div class="t sup">Data file: modeM0/AS1A02_071T01_9000001078_07874cztM0_level2_quad_clean.evt</div>
<div class="t ttl">Quadrant 3 DPH</div>
<div class="t xl" style="left:89.55px">0</div>
<div class="t yl" style="top:528.25px">0</div>
<div class="t xl" style="left:164.55px">10</div>
<div class="t yl" style="top:453.25px">10</div>
<div class="t xl" style="left:239.55px">20</div>
<div class="t yl" style="top:378.25px">20</div>
<div class="t xl" style="left:314.55px">30</div>
<div class="t yl" style="top:303.25px">30</div>
<div class="t xl" style="left:389.55px">40</div>
<div class="t yl" style="top:228.25px">40</div>
<div class="t xl" style="left:464.55px">50</div>
<div class="t yl" style="top:153.25px">50</div>
<div class="t xl" style="left:539.55px">60</div>
<div class="t yl" style="top:78.25px">60</div>
<div class="t cl" style="top:510.00px">0</div>
<div class="t cl" style="top:456.79px">50</div>
<div class="t cl" style="top:403.57px">100</div>
<div class="t cl" style="top:350.36px">150</div>
<div class="t cl" style="top:297.14px">200</div>
<div class="t cl" style="top:243.93px">250</div>
<div class="t cl" style="top:190.71px">300</div>
<div class="t cl" style="top:137.50px">350</div>
<div class="t cl" style="top:84.28px">400</div>
</body>
</html>
